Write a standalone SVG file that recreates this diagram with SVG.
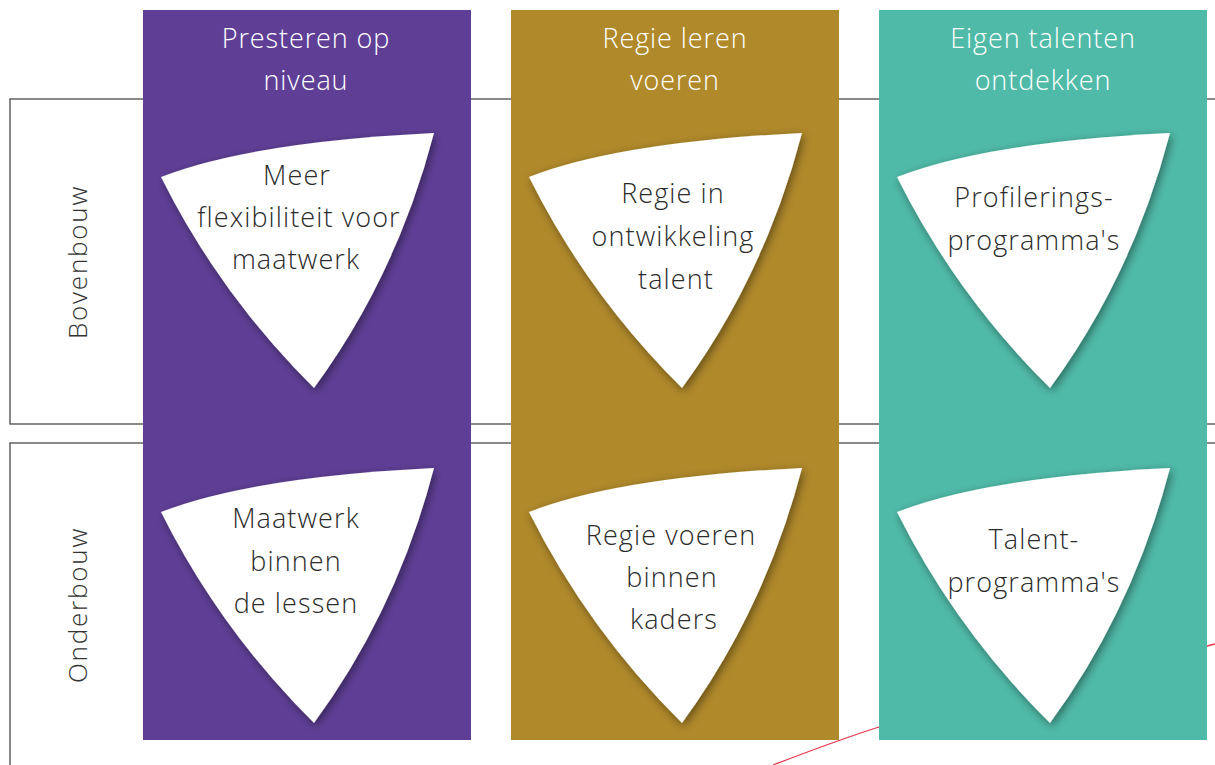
<svg xmlns="http://www.w3.org/2000/svg" xmlns:xlink="http://www.w3.org/1999/xlink" width="1215" height="765" viewBox="0 0 1215 765">
<style>
.row{fill:#fff;stroke:#4a4a4a;stroke-width:1.3}
.rowlbl{font-family:"Open Sans","Liberation Sans",sans-serif;font-weight:300;font-size:26px;letter-spacing:1.8px;fill:#333;text-anchor:middle}
.coltitle{font-family:"Open Sans","Liberation Sans",sans-serif;font-weight:300;font-size:27px;letter-spacing:0.9px;fill:#fff;text-anchor:middle}
.sh{fill:#fff;filter:url(#shadow)}
.lbl{font-family:"Open Sans","Liberation Sans",sans-serif;font-weight:300;font-size:27px;letter-spacing:1.1px;fill:#2b2b2b;text-anchor:middle}
.purple{fill:#5f3f96}
.gold{fill:#b0892b}
.teal{fill:#50baa8}
</style>
<defs>
<filter id="shadow" x="-20%" y="-20%" width="140%" height="140%">
<feDropShadow dx="2" dy="3" stdDeviation="5" flood-color="#000" flood-opacity="0.45"/>
</filter>
<path id="shield" d="M0,0 Q90,-35 273,-44 Q236,98 153,211 Q59,118 0,0 Z"/>
</defs>
<g id="rows">
<rect id="row-bovenbouw" class="row" x="10" y="99" width="1230" height="325"/>
<rect id="row-onderbouw" class="row" x="10" y="443" width="1230" height="340"/>
<text class="rowlbl" transform="translate(87,262) rotate(-90)">Bovenbouw</text>
<text class="rowlbl" transform="translate(87,605) rotate(-90)">Onderbouw</text>
</g>
<g id="connectors">
<path d="M773,765 C820,747 860,733 879,727 L1207,646 L1215,644" fill="none" stroke="#e8344a" stroke-width="1.3"/>
</g>
<g id="col-presteren">
<rect class="purple" x="143" y="10" width="328" height="730"/>
<text class="coltitle" x="306" y="48">Presteren op</text>
<text class="coltitle" x="306" y="90">niveau</text>
</g>
<g id="col-regie">
<rect class="gold" x="511" y="10" width="328" height="730"/>
<text class="coltitle" x="675" y="48">Regie leren</text>
<text class="coltitle" x="675" y="90">voeren</text>
</g>
<g id="col-talenten">
<rect class="teal" x="879" y="10" width="328" height="730"/>
<text class="coltitle" x="1043" y="48">Eigen talenten</text>
<text class="coltitle" x="1043" y="90">ontdekken</text>
</g>
<g id="node-meer-flexibiliteit">
<use href="#shield" class="sh" x="161" y="177"/>
<text class="lbl" x="297" y="185">Meer</text>
<text class="lbl" x="299" y="227">flexibiliteit voor</text>
<text class="lbl" x="296" y="269">maatwerk</text>
</g>
<g id="node-regie-ontwikkeling">
<use href="#shield" class="sh" x="529" y="177"/>
<text class="lbl" x="673" y="203">Regie in</text>
<text class="lbl" x="673" y="246">ontwikkeling</text>
<text class="lbl" x="676" y="289">talent</text>
</g>
<g id="node-profilering">
<use href="#shield" class="sh" x="897" y="177"/>
<text class="lbl" x="1034" y="207">Profilerings-</text>
<text class="lbl" x="1034" y="250">programma's</text>
</g>
<g id="node-maatwerk-lessen">
<use href="#shield" class="sh" x="161" y="512"/>
<text class="lbl" x="296" y="528">Maatwerk</text>
<text class="lbl" x="296" y="571">binnen</text>
<text class="lbl" x="296" y="613">de lessen</text>
</g>
<g id="node-regie-kaders">
<use href="#shield" class="sh" x="529" y="512"/>
<text class="lbl" x="671" y="545">Regie voeren</text>
<text class="lbl" x="672" y="587">binnen</text>
<text class="lbl" x="674" y="629">kaders</text>
</g>
<g id="node-talent">
<use href="#shield" class="sh" x="897" y="512"/>
<text class="lbl" x="1034" y="549">Talent-</text>
<text class="lbl" x="1034" y="592">programma's</text>
</g>
</svg>
